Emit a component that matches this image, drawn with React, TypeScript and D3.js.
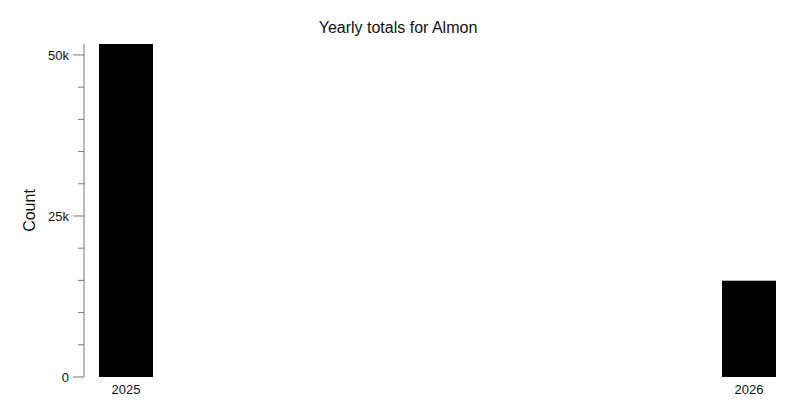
import React, { useEffect, useRef } from 'react';
import * as d3 from 'd3';

const years: string[] = ['2025', '2026'];
const counts: number[] = [51700, 14950];
const majorTicks: number[] = [0, 25000, 50000];
const minorTicks: number[] = [5000, 10000, 15000, 20000, 30000, 35000, 40000, 45000];

const title = 'Yearly totals for Almon';
const yLabel = 'Count';

const App: React.FC = () => {
	const ref = useRef<SVGSVGElement>(null);

	const width = 796;
	const height = 418;
	const margin = { top: 44, right: 20, bottom: 41, left: 84 };

	useEffect(() => {
		if (!ref.current) return;
		const svg = d3.select(ref.current);
		svg.selectAll('*').remove();

		const innerH = height - margin.top - margin.bottom;

		// bar centres sit inside the plot, bars 54px wide
		const x = d3
			.scalePoint<string>()
			.domain(years)
			.range([margin.left + 42, width - margin.right - 27]);
		const barW = 54;

		const y = d3
			.scaleLinear()
			.domain([0, d3.max(counts) ?? 0])
			.range([margin.top + innerH, margin.top]);

		// --- Bars ---
		svg
			.append('g')
			.selectAll('rect')
			.data(years)
			.enter()
			.append('rect')
			.attr('x', (d) => (x(d) ?? 0) - barW / 2)
			.attr('y', (d, i) => y(counts[i]))
			.attr('width', barW)
			.attr('height', (d, i) => y(0) - y(counts[i]))
			.attr('fill', '#000');

		// --- Y axis ---
		const fmt = (v: number) => (v === 0 ? '0' : `${v / 1000}k`);
		const gy = svg
			.append('g')
			.attr('transform', `translate(${margin.left},0)`)
			.attr('font-family', '"Liberation Sans", Arial, sans-serif');

		gy.append('line')
			.attr('x1', 0)
			.attr('x2', 0)
			.attr('y1', y(d3.max(counts) ?? 0))
			.attr('y2', y(0))
			.attr('stroke', '#777')
			.attr('stroke-width', 1);

		gy.selectAll('.minor')
			.data(minorTicks)
			.enter()
			.append('line')
			.attr('class', 'minor')
			.attr('x1', -6)
			.attr('x2', 0)
			.attr('y1', (d) => y(d))
			.attr('y2', (d) => y(d))
			.attr('stroke', '#777');

		const major = gy
			.selectAll('.major')
			.data(majorTicks)
			.enter()
			.append('g')
			.attr('class', 'major')
			.attr('transform', (d) => `translate(0,${y(d)})`);

		major
			.append('line')
			.attr('x1', -11)
			.attr('x2', 0)
			.attr('stroke', '#777');

		major
			.append('text')
			.attr('x', -15)
			.attr('dy', '0.35em')
			.attr('text-anchor', 'end')
			.attr('font-size', 13)
			.attr('fill', '#111')
			.text((d) => fmt(d));

		// --- X labels ---
		svg
			.append('g')
			.attr('font-family', '"Liberation Sans", Arial, sans-serif')
			.selectAll('text')
			.data(years)
			.enter()
			.append('text')
			.attr('x', (d) => x(d) ?? 0)
			.attr('y', y(0) + 17)
			.attr('text-anchor', 'middle')
			.attr('font-size', 13)
			.attr('fill', '#111')
			.text((d) => d);

		// --- Title and axis label ---
		svg
			.append('text')
			.attr('x', width / 2)
			.attr('y', 33)
			.attr('text-anchor', 'middle')
			.attr('font-family', '"Liberation Sans", Arial, sans-serif')
			.attr('font-size', 16)
			.attr('fill', '#111')
			.text(title);

		svg
			.append('text')
			.attr('transform', `translate(35,${margin.top + innerH / 2 + 0}) rotate(-90)`)
			.attr('text-anchor', 'middle')
			.attr('font-family', '"Liberation Sans", Arial, sans-serif')
			.attr('font-size', 16)
			.attr('fill', '#111')
			.text(yLabel);
	}, []);

	return (
		<svg
			ref={ref}
			width={width}
			height={height}
			style={{ position: 'absolute', left: 0, top: 0, background: '#fff' }}
		/>
	);
};

export default App;
